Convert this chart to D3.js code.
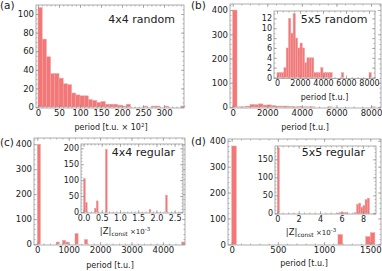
<!DOCTYPE html>
<html>
<head>
<meta charset="utf-8">
<script src="https://cdn.jsdelivr.net/npm/d3@7"></script>
<style>
  body { margin: 0; background: #fff; }
  text { font-family: "DejaVu Sans", sans-serif; fill: #222; }
  .tick text { font-size: 8.5px; fill: #222; font-family: "DejaVu Sans", sans-serif; }
  .inset .tick text { font-size: 8px; }
  .tick line { stroke: #888; stroke-width: 0.6; }
</style>
</head>
<body>
<div id="chart"></div>
<script>
// (a) 4x4 random, bins of 10 (x10^2 t.u.)
var aBinWidth = 10;
var aCounts = [107, 73, 54, 36, 36, 31, 25, 24, 15, 13, 12, 12, 8, 7, 5, 6, 3, 3, 3, 2, 1, 3, 0, 0, 0, 1, 0, 1, 1, 0, 1, 0, 0, 0, 1];

// (b) 5x5 random, main histogram (bins of 250 t.u.)
var bBinWidth = 250;
var bStarts = [0, 250, 500, 750, 1000, 1250, 1500, 1750, 2000, 2250, 2500, 2750, 3000, 3250, 3500, 3750, 4000, 4250, 4500, 5500, 8000];
var bCounts = [400, 1, 1, 4, 11, 10, 13, 8, 9, 6, 4, 4, 4, 2, 1, 2, 1, 1, 1, 1, 1];

// (b) inset, bins of 200 t.u.
var biBinWidth = 200;
var biStarts = [0, 200, 400, 600, 800, 1000, 1200, 1400, 1600, 1800, 2000, 2200, 2400, 2600, 2800, 3000, 3200, 3400, 3600, 3800, 4000, 4200, 4400, 4600, 5600, 8000];
var biCounts = [1, 1, 1, 2, 6, 12, 9, 13, 8, 6, 7, 6, 3, 4, 4, 4, 1, 1, 1, 2, 1, 1, 1, 1, 1, 1];

// (c) 4x4 regular, main (bins of 100 t.u.)
var cBinWidth = 100;
var cStarts = [0, 600, 800, 900, 1200, 1500, 4600];
var cCounts = [400, 8, 15, 8, 42, 18, 8];

// (c) inset, |Z|const x10^-3, bins of 0.05
var ciBinWidth = 0.05;
var ciStarts = [0, 0.05, 0.3, 0.35, 0.6, 1.8, 2.25];
var ciCounts = [105, 30, 12, 35, 197, 8, 53];

// (d) 5x5 regular, main (bins of 50 t.u.)
var dBinWidth = 50;
var dStarts = [0, 1150, 1450, 1500];
var dCounts = [380, 38, 30, 45];

// (d) inset, bins of 0.2
var diBinWidth = 0.2;
var diStarts = [0, 5.6, 5.8, 6.0, 6.2, 6.4, 7.2, 7.4, 7.6, 7.8, 8.0, 8.2, 8.4];
var diCounts = [182, 1, 2, 3, 2, 2, 2, 25, 28, 17, 22, 38, 42];

var svg = d3.select("#chart").append("svg")
  .attr("width", 382)
  .attr("height", 271);

svg.append("rect").attr("width", 382).attr("height", 271).attr("fill", "#fff");

function range(a, b, step) {
  return d3.range(a, b + step / 2, step);
}

function drawPanel(p) {
  var x = d3.scaleLinear().domain(p.xDom).range([p.x0, p.x1]);
  var y = d3.scaleLinear().domain(p.yDom).range([p.y1, p.y0]);
  var g = svg.append("g").classed("inset", !!p.inset);

  g.append("rect")
    .attr("x", p.x0).attr("y", p.y0)
    .attr("width", p.x1 - p.x0).attr("height", p.y1 - p.y0)
    .attr("fill", "#fff");

  var bars = p.starts.map((s, i) => ({s: s, c: p.counts[i]})).filter(d => d.c > 0);
  g.append("g").selectAll("rect")
    .data(bars)
    .enter()
    .append("rect")
    .attr("x", d => x(d.s))
    .attr("width", d => x(d.s + p.binW) - x(d.s))
    .attr("y", d => y(d.c))
    .attr("height", d => y(0) - y(d.c))
    .attr("fill", "#f47676")
    .attr("stroke", "#e7a9a9")
    .attr("stroke-width", 0.5);

  // minor ticks, all four sides
  var inMinorX = p.xMinor.filter(v => v >= p.xDom[0] && v <= p.xDom[1]);
  var inMinorY = p.yMinor.filter(v => v >= p.yDom[0] && v <= p.yDom[1]);
  g.append("g").attr("transform", `translate(0,${p.y1})`)
    .call(d3.axisBottom(x).tickValues(inMinorX).tickSize(-1.5).tickFormat(""));
  g.append("g").attr("transform", `translate(0,${p.y0})`)
    .call(d3.axisTop(x).tickValues(inMinorX).tickSize(-1.5).tickFormat(""));
  g.append("g").attr("transform", `translate(${p.x0},0)`)
    .call(d3.axisLeft(y).tickValues(inMinorY).tickSize(-1.5).tickFormat(""));
  g.append("g").attr("transform", `translate(${p.x1},0)`)
    .call(d3.axisRight(y).tickValues(inMinorY).tickSize(-1.5).tickFormat(""));

  // major ticks
  g.append("g").attr("transform", `translate(0,${p.y1})`)
    .call(d3.axisBottom(x).tickValues(p.xTicks).tickSize(-3).tickPadding(2).tickFormat(p.xFmt || d3.format("d")));
  g.append("g").attr("transform", `translate(0,${p.y0})`)
    .call(d3.axisTop(x).tickValues(p.xTicks).tickSize(-3).tickFormat(""));
  g.append("g").attr("transform", `translate(${p.x0},0)`)
    .call(d3.axisLeft(y).tickValues(p.yTicks).tickSize(-3).tickPadding(2).tickFormat(d3.format("d")));
  g.append("g").attr("transform", `translate(${p.x1},0)`)
    .call(d3.axisRight(y).tickValues(p.yTicks).tickSize(-3).tickFormat(""));

  g.selectAll(".domain").remove();

  g.append("rect")
    .attr("x", p.x0).attr("y", p.y0)
    .attr("width", p.x1 - p.x0).attr("height", p.y1 - p.y0)
    .attr("fill", "none")
    .attr("stroke", "#9a9a9a")
    .attr("stroke-width", 0.8);

  return g;
}

function periodLabel(cx, by) {
  svg.append("text").attr("x", cx).attr("y", by)
    .attr("text-anchor", "middle").style("font-size", "8px")
    .text("period [t.u.]");
}

function zLabel(cx, by) {
  var t = svg.append("text").attr("x", cx).attr("y", by)
    .attr("text-anchor", "middle").style("font-size", "8.5px");
  t.append("tspan").text("|Z|");
  t.append("tspan").attr("dy", 2).style("font-size", "6px").text("const");
  t.append("tspan").attr("dy", -2).style("font-size", "7px").text(" \u00d710");
  t.append("tspan").attr("dy", -3).style("font-size", "5.5px").text("-3");
}

function title(xr, by, s) {
  svg.append("text").attr("x", xr).attr("y", by)
    .attr("text-anchor", "end").style("font-size", "11px").text(s);
}

function letter(x0, by, s) {
  svg.append("text").attr("x", x0).attr("y", by).style("font-size", "10.5px").text(s);
}

// ---- (a)
drawPanel({
  x0: 36, x1: 184, y0: 5, y1: 108,
  xDom: [-4.8, 347.6], yDom: [-1.1, 109.7],
  starts: aCounts.map((c, i) => i * aBinWidth), counts: aCounts, binW: aBinWidth,
  xTicks: range(0, 300, 50), xMinor: range(0, 340, 10),
  yTicks: range(0, 100, 20), yMinor: range(0, 105, 5)
});
var aLab = svg.append("text").attr("x", 111).attr("y", 130)
  .attr("text-anchor", "middle").style("font-size", "8px");
aLab.append("tspan").text("period [t.u. \u00d7 10");
aLab.append("tspan").attr("dy", -3).style("font-size", "5.5px").text("2");
aLab.append("tspan").attr("dy", 3).text("]");
title(175, 23, "4x4 random");
letter(0, 9, "(a)");

// ---- (b)
drawPanel({
  x0: 230, x1: 381, y0: 4, y1: 108,
  xDom: [-156, 8578], yDom: [-4, 425],
  starts: bStarts, counts: bCounts, binW: bBinWidth,
  xTicks: range(0, 8000, 2000), xMinor: range(0, 8500, 500),
  yTicks: range(0, 400, 100), yMinor: range(0, 420, 20)
});
periodLabel(305, 130);
drawPanel({
  inset: true,
  x0: 274, x1: 375, y0: 11, y1: 78.5,
  xDom: [-260, 8520], yDom: [-0.2, 13.5],
  starts: biStarts, counts: biCounts, binW: biBinWidth,
  xTicks: range(0, 8000, 2000), xMinor: range(0, 8500, 500),
  yTicks: range(0, 12, 2), yMinor: range(0, 13, 1)
});
periodLabel(324.5, 100);
title(367.5, 23, "5x5 random");
letter(191, 9, "(b)");

// ---- (c)
drawPanel({
  x0: 34, x1: 185, y0: 138, y1: 245,
  xDom: [-105, 4704], yDom: [-4, 425],
  starts: cStarts, counts: cCounts, binW: cBinWidth,
  xTicks: range(0, 4000, 1000), xMinor: range(0, 4600, 200),
  yTicks: range(0, 400, 100), yMinor: range(0, 420, 20)
});
periodLabel(110, 268);
drawPanel({
  inset: true,
  x0: 81, x1: 183, y0: 144, y1: 213,
  xDom: [-0.07, 2.73], yDom: [-3, 213.5],
  starts: ciStarts, counts: ciCounts, binW: ciBinWidth,
  xTicks: range(0, 2.5, 0.5), xMinor: range(0, 2.7, 0.1), xFmt: d3.format(".1f"),
  yTicks: range(0, 200, 50), yMinor: range(0, 210, 10)
});
zLabel(125, 234);
title(175, 155.5, "4x4 regular");
letter(0, 145.5, "(c)");

// ---- (d)
drawPanel({
  x0: 228, x1: 381, y0: 139, y1: 245,
  xDom: [-40, 1616], yDom: [-2.7, 407],
  starts: dStarts, counts: dCounts, binW: dBinWidth,
  xTicks: range(0, 1500, 500), xMinor: range(0, 1600, 100),
  yTicks: range(0, 400, 100), yMinor: range(0, 400, 20)
});
periodLabel(304, 266);
drawPanel({
  inset: true,
  x0: 275, x1: 376, y0: 146, y1: 214,
  xDom: [-0.21, 9.22], yDom: [-1.9, 187],
  starts: diStarts, counts: diCounts, binW: diBinWidth,
  xTicks: range(0, 8, 2), xMinor: range(0, 9, 0.5),
  yTicks: range(0, 150, 50), yMinor: range(0, 180, 10)
});
zLabel(311, 235);
title(365, 156, "5x5 regular");
letter(191, 145, "(d)");
</script>
</body>
</html>
